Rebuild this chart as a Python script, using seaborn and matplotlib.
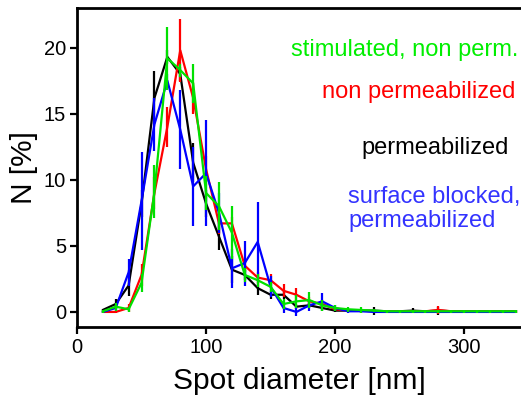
import numpy as np
import pandas as pd
import matplotlib
matplotlib.use("Agg")
import matplotlib.pyplot as plt
import seaborn as sns

# spot diameter bins [nm]
diameter = list(range(20, 350, 10))

# N [%] per condition
perm = [0.15, 0.6, 2.0, 8.2, 16.2, 19.3, 18.0, 11.3, 8.2, 5.7, 3.2, 2.8, 1.8, 1.3, 1.3, 0.4,
        0.5, 0.3, 0.1, 0.1, 0.1, 0.1, 0.05, 0.05, 0.1, 0.05, 0.1, 0.05, 0.05, 0.05, 0.05, 0.05, 0.05]
perm_err = [0.1, 0.4, 0.8, 1.0, 2.0, 0.5, 0.5, 1.5, 1.0, 1.0, 1.0, 0.4, 0.5, 0.3, 0.3, 0.2,
            0.2, 0.2, 0.1, 0.1, 0.1, 0.3, 0.1, 0.1, 0.2, 0.1, 0.3, 0.1, 0.1, 0.1, 0.1, 0.1, 0.1]

nonperm = [0.0, 0.0, 0.3, 2.8, 9.0, 14.0, 19.8, 16.2, 10.8, 6.7, 6.7, 3.5, 2.6, 2.4, 1.6, 1.3,
           0.8, 0.6, 0.2, 0.1, 0.1, 0.05, 0.05, 0.05, 0.05, 0.05, 0.15, 0.05, 0.05, 0.05, 0.05, 0.05, 0.05]
nonperm_err = [0.1, 0.1, 0.3, 0.8, 1.2, 1.5, 2.4, 1.2, 1.0, 0.8, 0.5, 0.5, 0.4, 0.5, 0.5, 0.5,
               0.3, 0.3, 0.1, 0.1, 0.1, 0.1, 0.1, 0.1, 0.1, 0.1, 0.3, 0.1, 0.1, 0.1, 0.1, 0.1, 0.1]

stim = [0.05, 0.4, 0.2, 2.2, 9.1, 19.2, 18.3, 17.3, 9.0, 8.0, 6.0, 2.8, 2.4, 1.9, 0.6, 0.8,
        0.9, 0.5, 0.3, 0.2, 0.15, 0.1, 0.05, 0.05, 0.05, 0.05, 0.05, 0.05, 0.05, 0.05, 0.05, 0.05, 0.05]
stim_err = [0.1, 0.3, 0.2, 0.7, 2.0, 2.4, 0.5, 1.5, 1.3, 1.8, 2.0, 0.5, 0.5, 0.4, 0.4, 0.5,
            0.6, 0.4, 0.2, 0.2, 0.2, 0.1, 0.1, 0.1, 0.1, 0.1, 0.1, 0.1, 0.1, 0.1, 0.1, 0.1, 0.1]

blocked = [0.0, 0.3, 3.0, 8.4, 14.2, 17.5, 13.8, 9.5, 10.5, 7.5, 3.3, 3.7, 5.3, 1.9, 0.3, 0.0,
           0.5, 0.8, 0.3, 0.05, 0.05, 0.0, 0.0, 0.0, 0.0, 0.0, 0.0, 0.0, 0.0, 0.0, 0.0, 0.0, 0.0]
blocked_err = [0.1, 0.2, 1.0, 3.7, 2.0, 0.5, 3.0, 3.0, 4.0, 1.5, 1.5, 1.7, 3.0, 0.8, 0.4, 0.3,
               0.4, 0.6, 0.2, 0.1, 0.1, 0.0, 0.0, 0.0, 0.0, 0.0, 0.0, 0.0, 0.0, 0.0, 0.0, 0.0, 0.0]

conditions = ["permeabilized", "non permeabilized", "surface blocked", "stimulated"]
colors = {"permeabilized": "black", "non permeabilized": "#ff0000",
          "surface blocked": "#0000ff", "stimulated": "#00e000"}

rows = []
for name, vals, errs in [("permeabilized", perm, perm_err),
                         ("non permeabilized", nonperm, nonperm_err),
                         ("surface blocked", blocked, blocked_err),
                         ("stimulated", stim, stim_err)]:
    for d, v, e in zip(diameter, vals, errs):
        rows.append({"diameter": d, "N": v, "err": e, "cond": name})
df = pd.DataFrame(rows)

sns.set_style("ticks")
plt.rcParams['font.family'] = ['Liberation Sans', 'DejaVu Sans']
plt.rcParams['text.color'] = 'black'
plt.rcParams['axes.labelcolor'] = 'black'
plt.rcParams['xtick.color'] = 'black'
plt.rcParams['ytick.color'] = 'black'

fig = plt.figure(figsize=(5.21, 4.05), dpi=100)
ax = fig.add_axes([77 / 521, 78 / 405, 1 - 77 / 521, 319 / 405])

for name in conditions:
    sub = df[df["cond"] == name]
    ax.errorbar(sub["diameter"], sub["N"], yerr=sub["err"], fmt="none",
                ecolor=colors[name], elinewidth=1.6, capsize=0)
    sns.lineplot(data=sub, x="diameter", y="N", color=colors[name],
                 linewidth=1.6, ax=ax, legend=False, errorbar=None)

ax.set_xlim(0, 344)
ax.set_ylim(-1.14, 23.0)
ax.set_xticks([0, 100, 200, 300])
ax.set_yticks([0, 5, 10, 15, 20])
ax.tick_params(direction="out", length=5, width=1.6, labelsize=14.5, pad=3)
for side in ["left", "bottom", "top"]:
    ax.spines[side].set_linewidth(2)
    ax.spines[side].set_color("black")
ax.spines["right"].set_visible(False)

ax.set_xlabel("Spot diameter [nm]", fontsize=21.5, labelpad=7)
ax.set_ylabel("N [%]", fontsize=21.5, labelpad=4)

def px(x, y):
    return x / 521, 1 - y / 405

fig.text(*px(518, 50), "stimulated, non perm.", color="#00ee00", fontsize=17,
         ha="right", va="center")
fig.text(*px(515, 92), "non permeabilized", color="#ff0000", fontsize=17,
         ha="right", va="center")
fig.text(*px(509, 148), "permeabilized", color="black", fontsize=17,
         ha="right", va="center")
fig.text(*px(348, 209), "surface blocked,\npermeabilized", color="#3333ff", fontsize=17,
         ha="left", va="center", linespacing=1.1)

fig.savefig("out.png", dpi=100)
